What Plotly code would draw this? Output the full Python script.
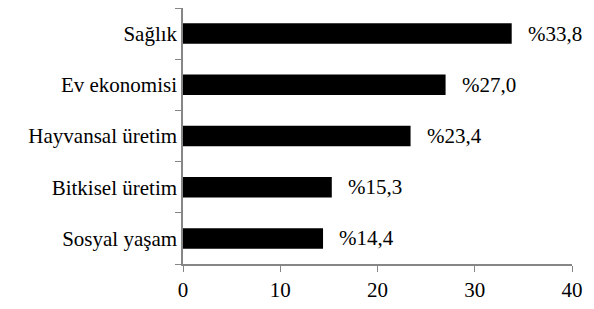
import plotly.graph_objects as go

categories = ["Sağlık", "Ev ekonomisi", "Hayvansal üretim", "Bitkisel üretim", "Sosyal yaşam"]
values = [33.8, 27.0, 23.4, 15.3, 14.4]
label_texts = ["33,8", "27,0", "23,4", "15,3", "14,4"]
x_ticks = [0, 10, 20, 30, 40]

AXIS = "#868686"
SERIF = "Times New Roman"
FS = 21

fig = go.Figure()
fig.add_trace(go.Bar(
    x=values, y=categories, orientation="h",
    marker=dict(color="black", line=dict(width=0)),
    width=0.4,
    hoverinfo="skip",
))

for cat, v, t in zip(categories, values, label_texts):
    fig.add_annotation(
        x=v, y=cat, xref="x", yref="y",
        text="&#37;" + t,
        showarrow=False, xanchor="left", yanchor="middle", xshift=14,
        font=dict(family=SERIF, size=FS, color="black"),
    )

fig.update_layout(
    width=594, height=309,
    margin=dict(l=183, r=22, t=7.5, b=37.5),
    paper_bgcolor="white", plot_bgcolor="white",
    showlegend=False,
    bargap=0.6,
)
fig.update_xaxes(
    range=[0, 40], tickvals=x_ticks,
    showline=True, linecolor=AXIS, linewidth=1.5,
    ticks="outside", ticklen=6, tickcolor=AXIS,
    tickfont=dict(family=SERIF, size=FS, color="black"),
)
fig.update_yaxes(
    categoryorder="array", categoryarray=categories[::-1],
    showline=True, linecolor=AXIS, linewidth=1.5,
    ticks="outside", ticklen=6, tickcolor=AXIS,
    tickson="boundaries",
    tickfont=dict(family=SERIF, size=FS, color="black"),
)

fig.write_html("out.html", config={"displayModeBar": False},
               post_script="document.body.style.margin='0';")
